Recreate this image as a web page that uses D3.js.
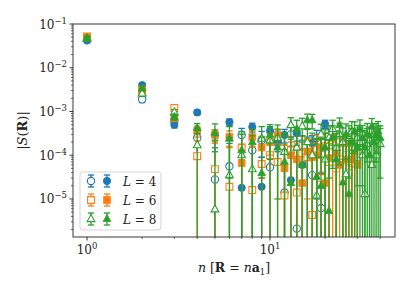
<!DOCTYPE html>
<html><head><meta charset="utf-8">
<script src="https://cdn.jsdelivr.net/npm/d3@7"></script>
<style>body{margin:0;background:#fff}svg{display:block}</style>
</head><body>
<svg id="c" width="415" height="297"></svg>
<script>
// ---------- data ----------
const nL4 = [1,2,3,4,5,6,7,8,9,10,11,12,13,14,15,16,17,18,19,20];
const nL6 = [1,2,3,4,5,6,7,8,9,10,11,12,13,14,15,16,17,18,19,20,21,22,23,24,25,26,27,28,29,30];
const nL8 = [1,2,3,4,5,6,7,8,9,10,11,12,13,14,15,16,17,18,19,20,21,22,23,24,25,26,27,28,29,30,31,32,33,34,35,36,37,38,39,40];

const L4open   = [0.045,1.9e-3,6.0e-4,2.5e-4,2.8e-5,5.6e-5,2.9e-4,1.3e-4,2.2e-4,5.3e-5,1.9e-4,1.4e-5,3.0e-4,2.1e-6,8.0e-5,1.2e-4,3.5e-5,2.5e-4,6.2e-6,3.7e-4];
const L4openErr= [0.004,3e-4,1.5e-4,1.5e-4,1.2e-4,1.3e-4,1.2e-4,1.4e-4,1.3e-4,1.2e-4,1.3e-4,1.2e-4,1.4e-4,1.3e-4,1.2e-4,1.4e-4,1.3e-4,1.2e-4,1.3e-4,1.4e-4];
const L4fill   = [0.042,4.0e-3,5.0e-4,9.5e-4,3.0e-4,5.7e-4,1.8e-5,4.4e-4,1.9e-5,3.6e-4,2.0e-4,2.9e-4,2.7e-5,3.2e-4,6.0e-5,1.0e-4,1.9e-4,1.2e-4,3.5e-5,5.2e-4];
const L4fillErr= [0.004,4e-4,8e-5,1.2e-4,8e-5,1e-4,6e-5,1e-4,7e-5,9e-5,8e-5,1e-4,9e-5,1.1e-4,8e-5,1e-4,9e-5,1.1e-4,9e-5,1.1e-4];

const L6open   = [0.052,2.8e-3,1.2e-3,9.5e-5,4.8e-5,1.9e-5,1.5e-4,1.6e-5,6.3e-5,1.0e-4,7.0e-5,1.2e-5,1.3e-4,1.4e-5,1.1e-4,9.0e-5,4.3e-6,1.3e-4,3.0e-5,1.6e-4,7.0e-5,1.2e-4,5.0e-5,2.0e-4,8.0e-5,1.0e-4,4.0e-5,6.5e-5,1.5e-4,9.0e-5];
const L6openErr= [0.004,3e-4,2e-4,1.2e-4,1.4e-4,1.3e-4,1.5e-4,1.4e-4,1.5e-4,1.4e-4,1.5e-4,1.6e-4,1.4e-4,1.5e-4,1.6e-4,1.5e-4,1.4e-4,1.6e-4,1.5e-4,1.6e-4,1.5e-4,1.6e-4,1.5e-4,1.4e-4,1.6e-4,1.5e-4,1.6e-4,1.5e-4,1.6e-4,1.5e-4];
const L6fill   = [0.050,3.2e-3,7.0e-4,3.6e-4,2.9e-4,2.6e-4,6.6e-5,2.6e-4,1.5e-4,2.0e-4,2.9e-4,5.0e-5,1.0e-4,8.0e-5,2.3e-5,1.2e-4,9.0e-5,1.0e-4,1.5e-4,2.3e-5,8.5e-5,2.5e-4,1.1e-4,6.0e-5,1.9e-4,8.0e-5,1.9e-4,8.0e-5,1.2e-4,6.0e-5];
const L6fillErr= [0.004,4e-4,1e-4,1e-4,9e-5,1e-4,1.1e-4,1e-4,1.2e-4,1e-4,1.1e-4,1.2e-4,1e-4,1.1e-4,1.2e-4,1.1e-4,1e-4,1.2e-4,1.1e-4,1.2e-4,1e-4,1.1e-4,1.3e-4,1.2e-4,1.1e-4,1.2e-4,1.3e-4,1.1e-4,1.2e-4,1.3e-4];

const L8open   = [0.046,2.6e-3,9.6e-4,1.7e-4,5.8e-6,3.5e-5,1.0e-4,4.8e-5,2.4e-4,2.2e-4,2.5e-4,1.2e-4,4.9e-4,1.5e-4,4.6e-4,2.0e-4,1.0e-4,1.2e-5,3.0e-4,8.0e-5,2.5e-4,4.0e-4,1.5e-4,3.0e-4,2.0e-4,3.7e-5,2.5e-4,3.5e-4,1.5e-4,2.5e-4,2.0e-4,1.0e-4,1.3e-5,1.8e-4,2.2e-4,6.0e-5,3.0e-4,1.0e-4,2.2e-4,1.8e-4];
const L8openErr= [0.005,4e-4,1.5e-4,2.0e-4,2.1e-4,2.2e-4,2.0e-4,2.3e-4,2.1e-4,2.2e-4,2.4e-4,2.1e-4,2.3e-4,2.2e-4,2.4e-4,2.1e-4,2.2e-4,2.3e-4,2.1e-4,2.4e-4,2.2e-4,2.3e-4,2.1e-4,2.4e-4,2.2e-4,2.3e-4,2.2e-4,2.4e-4,2.1e-4,2.3e-4,2.2e-4,2.4e-4,2.1e-4,2.3e-4,2.2e-4,2.4e-4,2.3e-4,2.2e-4,2.4e-4,2.3e-4];
const L8fill   = [0.048,3.4e-3,7.5e-4,4.2e-4,3.2e-4,2.4e-4,1.3e-4,2.0e-4,3.9e-5,2.9e-4,1.5e-4,7.0e-5,2.3e-5,4.0e-4,6.0e-5,6.3e-4,6.3e-4,3.2e-5,2.0e-5,1.5e-4,5.3e-6,2.6e-4,8.0e-5,4.9e-4,2.4e-5,3.0e-4,1.3e-5,2.0e-4,3.5e-4,1.5e-4,4.0e-4,2.5e-4,1.5e-4,3.0e-4,1.0e-4,4.5e-4,2.0e-4,3.0e-4,3.5e-4,2.5e-4];
const L8fillErr= [0.005,4e-4,1.2e-4,1.1e-4,2.0e-4,2.1e-4,2.2e-4,2.0e-4,2.2e-4,2.1e-4,2.3e-4,2.2e-4,2.1e-4,2.3e-4,2.2e-4,2.4e-4,2.3e-4,2.1e-4,2.2e-4,2.3e-4,2.2e-4,2.1e-4,2.3e-4,2.2e-4,2.4e-4,2.2e-4,2.3e-4,2.1e-4,2.3e-4,2.2e-4,2.4e-4,2.3e-4,2.2e-4,2.3e-4,2.1e-4,2.4e-4,2.2e-4,2.3e-4,2.4e-4,2.2e-4];

const legendLabels = ["4","6","8"];
const yTickExps = [-5,-4,-3,-2,-1];
const xTickExps = [0,1];

// ---------- layout ----------
const W = 415, H = 297;
const M = {left:73, right:395, top:24, bottom:237};
const C = {blue:"#1f77b4", orange:"#ff7f0e", green:"#2ca02c"};
const svg = d3.select("#c");

const x = d3.scaleLog().domain([0.838, 48.2]).range([M.left, M.right]);
const y = d3.scaleLog().domain([1.35e-6, 0.1]).range([M.bottom, M.top]);

svg.append("defs").append("clipPath").attr("id","clip")
  .append("rect").attr("x",M.left).attr("y",M.top)
  .attr("width",M.right-M.left).attr("height",M.bottom-M.top);

const plot = svg.append("g").attr("clip-path","url(#clip)");

const series = [
  {n:nL4, v:L4open, e:L4openErr, c:C.blue, shape:"circle", open:true},
  {n:nL4, v:L4fill, e:L4fillErr, c:C.blue, shape:"circle", open:false},
  {n:nL6, v:L6open, e:L6openErr, c:C.orange, shape:"square", open:true},
  {n:nL6, v:L6fill, e:L6fillErr, c:C.orange, shape:"square", open:false},
  {n:nL8, v:L8open, e:L8openErr, c:C.green, shape:"triangle", open:true},
  {n:nL8, v:L8fill, e:L8fillErr, c:C.green, shape:"triangle", open:false},
];

function markerPath(shape){
  if(shape==="circle") return d3.symbol(d3.symbolCircle, 42)();
  if(shape==="square") return "M-3.4,-3.4H3.4V3.4H-3.4Z";
  return "M0,-4.4L3.9,2.6L-3.9,2.6Z";
}
const cap = 3.2;
const yBottom = y.domain()[0]*0.3;

function drawSeries(g, s, pts){
  const gg = g.append("g");
  pts.forEach(p=>{
    const px = x(p.n);
    const lo = p.v - p.e > 0 ? p.v - p.e : yBottom;
    const hi = p.v + p.e;
    const y0 = y(lo), y1 = y(hi);
    gg.append("line").attr("x1",px).attr("x2",px).attr("y1",y0).attr("y2",y1)
      .attr("stroke",s.c).attr("stroke-width",1.3);
    gg.append("line").attr("x1",px-cap).attr("x2",px+cap).attr("y1",y1).attr("y2",y1)
      .attr("stroke",s.c).attr("stroke-width",1.3);
    if(p.v - p.e > 0)
      gg.append("line").attr("x1",px-cap).attr("x2",px+cap).attr("y1",y0).attr("y2",y0)
        .attr("stroke",s.c).attr("stroke-width",1.3);
  });
  pts.forEach(p=>{
    gg.append("path").attr("d",markerPath(s.shape))
      .attr("transform",`translate(${x(p.n)},${y(p.v)})`)
      .attr("fill", s.open ? "#fff" : s.c)
      .attr("stroke", s.c).attr("stroke-width", s.open?1.1:0.8);
  });
}

series.forEach(s=>{
  const pts = s.n.map((n,i)=>({n, v:s.v[i], e:s.e[i]}));
  drawSeries(plot, s, pts);
});

// ---------- axes ----------
const axG = svg.append("g");
const font = "'DejaVu Serif','Liberation Serif',serif";

// y ticks
const yMajor = yTickExps.map(k=>Math.pow(10,k));
const yMinor = [];
for(let k=-6;k<=-2;k++) for(let m=2;m<=9;m++){ const v=m*Math.pow(10,k); if(v>=y.domain()[0] && v<=y.domain()[1]) yMinor.push(v); }
yMinor.forEach(v=>axG.append("line").attr("x1",M.left).attr("x2",M.left-2).attr("y1",y(v)).attr("y2",y(v)).attr("stroke","#000").attr("stroke-width",0.6));
yMajor.forEach(v=>axG.append("line").attr("x1",M.left).attr("x2",M.left-3.5).attr("y1",y(v)).attr("y2",y(v)).attr("stroke","#000").attr("stroke-width",0.8));
yTickExps.forEach(k=>{
  const t = axG.append("text").attr("x",M.left-6).attr("y",y(Math.pow(10,k))+4.5)
    .attr("text-anchor","end").attr("font-family",font).attr("font-size",12).attr("fill","#222");
  t.append("tspan").text("10");
  t.append("tspan").attr("dy",-5).attr("font-size",8.5).text("\u2212"+Math.abs(k));
});

// x ticks
const xMinor = [];
for(let k=0;k<=1;k++) for(let m=2;m<=9;m++){ const v=m*Math.pow(10,k); if(v<=x.domain()[1]) xMinor.push(v); }
xMinor.forEach(v=>axG.append("line").attr("x1",x(v)).attr("x2",x(v)).attr("y1",M.bottom).attr("y2",M.bottom+2).attr("stroke","#000").attr("stroke-width",0.6));
xTickExps.forEach(k=>{
  const v = Math.pow(10,k);
  axG.append("line").attr("x1",x(v)).attr("x2",x(v)).attr("y1",M.bottom).attr("y2",M.bottom+3.5).attr("stroke","#000").attr("stroke-width",0.8);
  const t = axG.append("text").attr("x",x(v)).attr("y",M.bottom+17)
    .attr("text-anchor","middle").attr("font-family",font).attr("font-size",12).attr("fill","#222");
  t.append("tspan").text("10");
  t.append("tspan").attr("dy",-5).attr("font-size",8.5).text(String(k));
});

// spines
axG.append("rect").attr("x",M.left).attr("y",M.top).attr("width",M.right-M.left).attr("height",M.bottom-M.top)
  .attr("fill","none").attr("stroke","#222").attr("stroke-width",0.9);

// axis labels
const xl = svg.append("text").attr("x",(M.left+M.right)/2).attr("y",272).attr("text-anchor","middle")
  .attr("font-family",font).attr("font-size",12.5).attr("fill","#222");
xl.append("tspan").attr("font-style","italic").text("n");
xl.append("tspan").text(" [");
xl.append("tspan").attr("font-weight","bold").text("R");
xl.append("tspan").text(" = ");
xl.append("tspan").attr("font-style","italic").text("n");
xl.append("tspan").attr("font-weight","bold").text("a");
xl.append("tspan").attr("dy",3).attr("font-size",8.5).text("1");
xl.append("tspan").attr("dy",-3).text("]");

const yl = svg.append("text").attr("transform",`translate(27,${(M.top+M.bottom)/2}) rotate(-90)`)
  .attr("text-anchor","middle").attr("font-family",font).attr("font-size",13).attr("fill","#222");
yl.append("tspan").text("|");
yl.append("tspan").attr("font-style","italic").text("S");
yl.append("tspan").text("(");
yl.append("tspan").attr("font-weight","bold").text("R");
yl.append("tspan").text(")|");

// ---------- legend ----------
const lg = svg.append("g");
lg.append("rect").attr("x",80).attr("y",172).attr("width",81).attr("height",58).attr("rx",3)
  .attr("fill","#fff").attr("fill-opacity",0.85).attr("stroke","#d0d0d0").attr("stroke-width",0.9);
const legRows = [[series[0],series[1]],[series[2],series[3]],[series[4],series[5]]];
legRows.forEach((pair,i)=>{
  const cy = 181 + i*19;
  pair.forEach((s,j)=>{
    const cx = 91 + j*16;
    const g = lg.append("g");
    g.append("line").attr("x1",cx).attr("x2",cx).attr("y1",cy-6).attr("y2",cy+6).attr("stroke",s.c).attr("stroke-width",1.3);
    [cy-6,cy+6].forEach(yy=>g.append("line").attr("x1",cx-cap).attr("x2",cx+cap).attr("y1",yy).attr("y2",yy).attr("stroke",s.c).attr("stroke-width",1.3));
    g.append("path").attr("d",markerPath(s.shape)).attr("transform",`translate(${cx},${cy})`)
      .attr("fill", s.open ? "#fff" : s.c).attr("stroke",s.c).attr("stroke-width", s.open?1.1:0.8);
  });
  const t = lg.append("text").attr("x",123).attr("y",cy+4.5).attr("font-family",font).attr("font-size",12).attr("fill","#222");
  t.append("tspan").attr("font-style","italic").text("L");
  t.append("tspan").text(" = "+legendLabels[i]);
});
</script>
</body></html>
